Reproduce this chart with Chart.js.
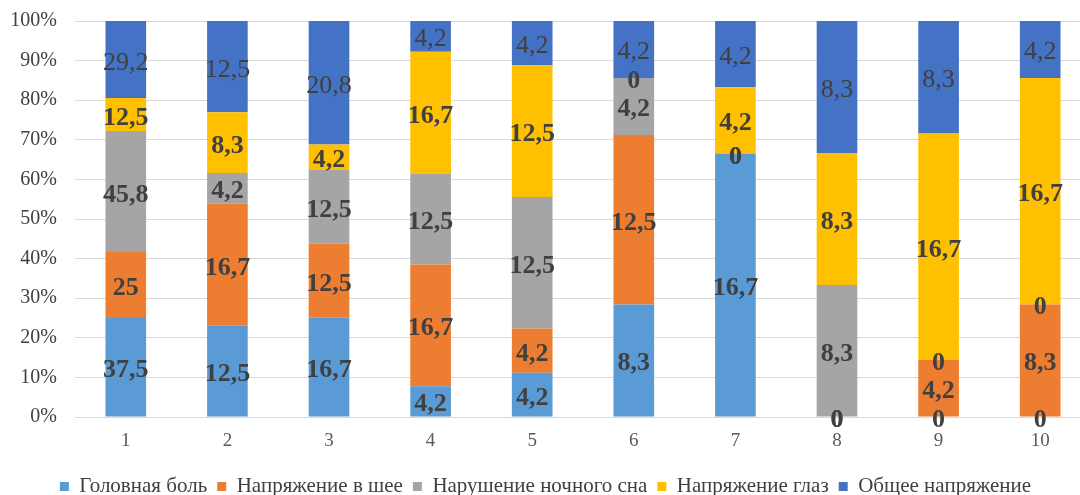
<!DOCTYPE html>
<html lang="ru">
<head>
<meta charset="utf-8">
<title>Жалобы по группам</title>
<script src="https://cdn.jsdelivr.net/npm/chart.js@4/dist/chart.umd.min.js"></script>
<style>
  html, body { margin: 0; padding: 0; background: #fff; overflow: hidden; }
  canvas { display: block; }
</style>
</head>
<body>
<canvas id="complaintsChart" width="1100" height="507"></canvas>
<script>
// values (labels on the segments)
const categories = ['1', '2', '3', '4', '5', '6', '7', '8', '9', '10'];
const headache = [37.5, 12.5, 16.7, 4.2, 4.2, 8.3, 16.7, 0, 0, 0];
const neckStrain = [25, 16.7, 12.5, 16.7, 4.2, 12.5, 0, 0, 4.2, 8.3];
const sleepDisorder = [45.8, 4.2, 12.5, 12.5, 12.5, 4.2, 0, 8.3, 0, 0];
const eyeStrain = [12.5, 8.3, 4.2, 16.7, 12.5, 0, 4.2, 8.3, 16.7, 16.7];
const generalStrain = [29.2, 12.5, 20.8, 4.2, 4.2, 4.2, 4.2, 8.3, 8.3, 4.2];
const seriesNames = ['Головная боль', 'Напряжение в шее', 'Нарушение ночного сна', 'Напряжение глаз', 'Общее напряжение'];
const percentTicks = [0, 10, 20, 30, 40, 50, 60, 70, 80, 90, 100];

const rawSeries = [headache, neckStrain, sleepDisorder, eyeStrain, generalStrain];
const colors = ['#5B9BD5', '#ED7D31', '#A5A5A5', '#FFC000', '#4472C4'];
const boldLabels = [true, true, true, true, false];
const serif = '"Liberation Serif", "Times New Roman", serif';

// 100% stacking: each column is scaled to its own total
const totals = categories.map((c, i) => rawSeries.reduce((s, arr) => s + arr[i], 0));

const datasets = rawSeries.map((arr, k) => ({
    label: seriesNames[k],
    data: arr.map((v, i) => v / totals[i] * 100),
    backgroundColor: colors[k],
    borderWidth: 0,
    barPercentage: 0.4,
    categoryPercentage: 1.0
}));

// draws the raw value in the middle of each segment
const valueLabels = {
    id: 'valueLabels',
    afterDatasetsDraw(chart) {
        const ctx = chart.ctx;
        ctx.save();
        ctx.textAlign = 'center';
        ctx.textBaseline = 'alphabetic';
        ctx.fillStyle = '#404040';
        chart.data.datasets.forEach((ds, k) => {
            const meta = chart.getDatasetMeta(k);
            ctx.font = (boldLabels[k] ? 'bold ' : '') + '26px ' + serif;
            meta.data.forEach((bar, i) => {
                const mid = (bar.y + bar.base) / 2;
                ctx.fillText(String(rawSeries[k][i]).replace('.', ','), bar.x, mid + 10);
            });
        });
        ctx.restore();
    }
};

const complaintsChart = new Chart(document.getElementById('complaintsChart').getContext('2d'), {
    type: 'bar',
    data: {
        labels: categories,
        datasets: datasets
    },
    options: {
        responsive: false,
        animation: false,
        layout: {
            padding: { top: 21, right: 9, bottom: 0, left: 0 }
        },
        scales: {
            x: {
                stacked: true,
                grid: { display: false, drawTicks: false },
                border: { display: false },
                ticks: { color: '#595959', padding: 13, font: { family: serif, size: 19 } },
                afterFit(scale) { scale.height = 49; }
            },
            y: {
                stacked: true,
                min: 0,
                max: 100,
                grid: { color: '#D9D9D9', lineWidth: 1, drawTicks: false },
                border: { display: false },
                afterBuildTicks(scale) { scale.ticks = percentTicks.map(v => ({ value: v })); },
                ticks: {
                    color: '#404040',
                    padding: 18,
                    font: { family: serif, size: 20 },
                    callback: v => v + '%'
                },
                afterFit(scale) {
                    scale.width = 75;
                    scale.paddingTop = 0;
                    scale.paddingBottom = 0;
                }
            }
        },
        plugins: {
            legend: {
                position: 'bottom',
                labels: {
                    color: '#404040',
                    boxWidth: 9,
                    boxHeight: 9,
                    padding: 10,
                    font: { family: serif, size: 21 }
                }
            },
            tooltip: { enabled: false }
        }
    },
    plugins: [valueLabels]
});
</script>
</body>
</html>
